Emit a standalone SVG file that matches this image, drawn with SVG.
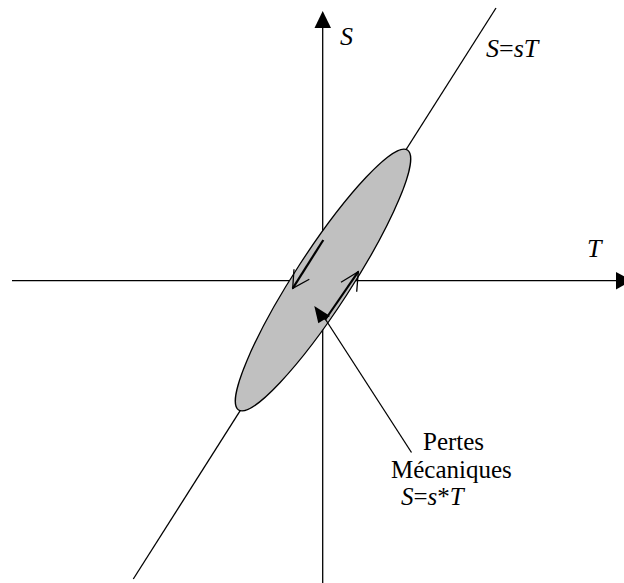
<svg xmlns="http://www.w3.org/2000/svg" width="624" height="583" viewBox="0 0 624 583">
<style>
.ln{stroke:#000;stroke-width:1.3;fill:none}
.thk{stroke:#000;stroke-width:2.2;fill:none}
.t{font-family:"Liberation Serif","Times New Roman",serif;font-size:26px;fill:#000}
.s{font-size:25px}
.i{font-style:italic}
</style>
<rect width="624" height="583" fill="#fff"/>
<g id="connectors">
<line class="ln" x1="12" y1="280.7" x2="617" y2="280.7"/>
<polygon points="616,272 616,289.5 632,280.7" fill="#000"/>
<line class="ln" x1="322.7" y1="27" x2="322.7" y2="583"/>
<polygon points="322.7,11 314.5,28 331,28" fill="#000"/>
<line class="ln" x1="133.3" y1="579" x2="496" y2="8"/>
</g>
<g id="ellipse">
<ellipse cx="323" cy="280" rx="155" ry="28" transform="rotate(-57 323 280)" fill="#C0C0C0" stroke="#000" stroke-width="1.3"/>
</g>
<g id="cycle-arrows">
<line class="thk" x1="323.3" y1="240" x2="292.7" y2="288.3"/>
<polyline class="ln" points="294,269.3 292.7,288.3 309.3,279.3"/>
<line class="thk" x1="325" y1="320" x2="358.3" y2="271.7"/>
<polyline class="ln" points="341,282.3 358.3,271.7 356.7,291.7"/>
</g>
<g id="pointer">
<line class="ln" x1="322" y1="314" x2="411.5" y2="452.5"/>
<polygon points="314.3,306 318.3,323.3 330,316" fill="#000"/>
</g>
<g id="labels">
<text class="t i" x="340" y="44.5">S</text>
<text class="t" x="486" y="57"><tspan class="i">S</tspan>=<tspan class="i">sT</tspan></text>
<text class="t i" x="587" y="256.5">T</text>
<text class="t s" x="423" y="450">Pertes</text>
<text class="t s" x="391" y="478">Mécaniques</text>
<text class="t s" x="401" y="505"><tspan class="i">S</tspan>=<tspan class="i">s</tspan>*<tspan class="i">T</tspan></text>
</g>
</svg>
